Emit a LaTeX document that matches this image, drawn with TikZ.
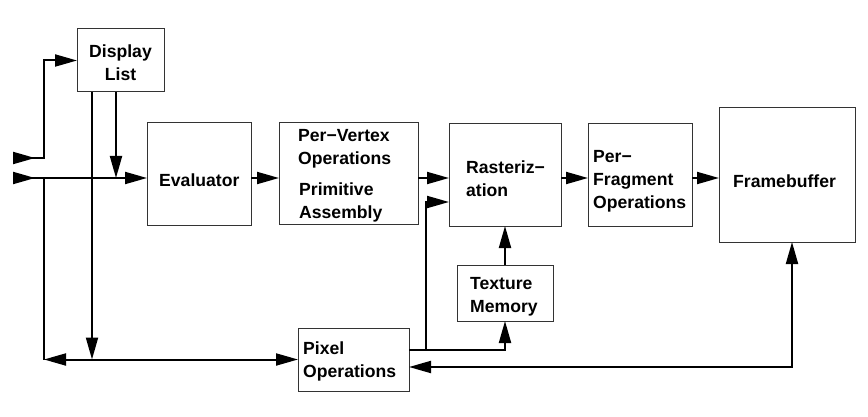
\documentclass[tikz,border=0pt]{standalone}
\usepackage{fontspec}
\setmainfont{Liberation Sans}
\usetikzlibrary{arrows.meta}
\begin{document}
\begin{tikzpicture}[x=1pt,y=-1pt,
  box/.style={draw=black!80, line width=1pt, inner sep=0pt, outer sep=0pt},
  lbl/.style={font=\bfseries\fontsize{17.6}{23}\selectfont, align=left, inner sep=0pt, anchor=west},
  wire/.style={line width=2pt},
  conn/.style={wire, -{Triangle[length=22pt,width=12pt]}},
  both/.style={wire, {Triangle[length=22pt,width=12pt]}-{Triangle[length=22pt,width=12pt]}},
  feed/.style={wire, {Triangle[length=22pt,width=12pt,reversed]}-{Triangle[length=22pt,width=12pt]}},
  feedline/.style={wire, {Triangle[length=22pt,width=12pt,reversed]}-}
]
\useasboundingbox (0,0) rectangle (868,417);

% boxes
\node[box, minimum width=87pt,  minimum height=63pt]  (DL)   at (120.5,60.5) {};
\node[box, minimum width=104pt, minimum height=102pt] (Eval) at (199,174) {};
\node[box, minimum width=139pt, minimum height=101pt] (PV)   at (348.5,173.5) {};
\node[box, minimum width=112pt, minimum height=102pt] (Rast) at (505,175) {};
\node[box, minimum width=104pt, minimum height=102pt] (PF)   at (640,175) {};
\node[box, minimum width=136pt, minimum height=134pt] (FB)   at (787,175) {};
\node[box, minimum width=96pt,  minimum height=56pt]  (TM)   at (505,293) {};
\node[box, minimum width=111pt, minimum height=63pt]  (PO)   at (353.5,359.5) {};

% labels
\node[lbl, align=center, anchor=center] (tDL) at (120.5,63) {Display\\List};
\node[lbl] (tEval) at (159,180) {Evaluator};
\node[lbl] (tPV1)  at (298,149) {Per−Vertex\\Operations};
\node[lbl] (tPV2)  at (299,202) {Primitive\\Assembly};
\node[lbl] (tRast) at (466,179) {Rasteriz−\\ation};
\node[lbl] (tPF)   at (593,181) {Per−\\Fragment\\Operations};
\node[lbl] (tFB)   at (733,181) {Framebuffer};
\node[lbl] (tTM)   at (470,297) {Texture\\Memory};
\node[lbl] (tPO)   at (303,361.5) {Pixel\\Operations};

% junction coordinates
\coordinate (in1) at (13,158);
\coordinate (in2) at (13,178);
\coordinate (j1)  at (44,158);
\coordinate (j2)  at (44,178);
\coordinate (j3)  at (44,359.5);
\coordinate (dlA) at (116,92);
\coordinate (dlB) at (92,92);
\coordinate (r1)  at (426,350);
\coordinate (r2)  at (426,202);
\coordinate (f1)  at (792,367);

% connectors
\draw[feed] (in1) -- (j1) |- (DL.west);
\draw[feed] (in2) -- (Eval.west |- in2);
\draw[wire] (j2) -- (j3);
\draw[conn] (dlA) -- (dlA |- in2);
\draw[conn] (dlB) -- (dlB |- j3);
\draw[both] (j3) -- (PO.west);
\draw[conn] (Eval.east |- in2) -- (PV.west |- in2);
\draw[conn] (PV.east |- in2) -- (Rast.west |- in2);
\draw[conn] (Rast.east |- in2) -- (PF.west |- in2);
\draw[conn] (PF.east |- in2) -- (FB.west |- in2);
\draw[conn] (PO.east |- r1) -| (TM.south);
\draw[conn] (r1) -- (r2) -- (Rast.west |- r2);
\draw[conn] (TM.north) -- (Rast.south);
\draw[both] (PO.east |- f1) -- (f1) -- (f1 |- FB.south);
\end{tikzpicture}
\end{document}
